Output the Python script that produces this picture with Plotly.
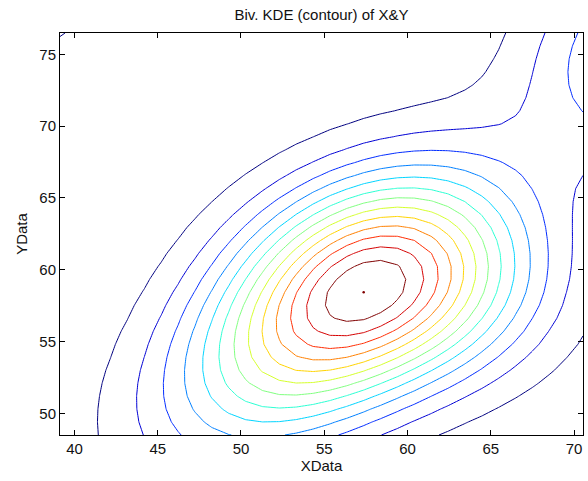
import numpy as np
import plotly.graph_objects as go

# Axis extents and ticks
x_range = [39.13, 70.54]
y_range = [48.49, 76.48]
x_ticks = [40, 45, 50, 55, 60, 65, 70]
y_ticks = [50, 55, 60, 65, 70, 75]

# Smoothed density of X&Y, described as a sum of bivariate Gaussian bumps
comp_mx = [59.865, 55.440, 73.555, 36.5]
comp_my = [59.016, 57.031, 75.190, 80.0]
comp_sx = [5.894, 6.637, 4.523, 2.5]
comp_sy = [4.716, 6.599, 5.475, 2.5]
comp_rho = [-0.038, 0.545, 0.133, 0.0]
comp_w = [1.0, 1.6671, 0.7215, 0.95]

n_levels = 14          # contour levels are k/14 of the maximum, k = 1..13
n_grid = 32            # evaluation grid per axis


def gauss2(X, Y, mx, my, sx, sy, r):
    zx = (X - mx) / sx
    zy = (Y - my) / sy
    return np.exp(-(zx * zx - 2 * r * zx * zy + zy * zy) / (2 * (1 - r * r)))


xg = np.linspace(x_range[0], x_range[1], n_grid)
yg = np.linspace(y_range[0], y_range[1], n_grid)
XX, YY = np.meshgrid(xg, yg)
Z = np.zeros_like(XX)
for mx, my, sx, sy, r, w in zip(comp_mx, comp_my, comp_sx, comp_sy, comp_rho, comp_w):
    Z += w * gauss2(XX, YY, mx, my, sx, sy, r)

zmax = Z.max()
iy, ix = np.unravel_index(np.argmax(Z), Z.shape)

# MATLAB-style jet colour map
jet = [[0, 'rgb(0,0,128)'], [0.125, 'rgb(0,0,255)'], [0.375, 'rgb(0,255,255)'],
       [0.625, 'rgb(255,255,0)'], [0.875, 'rgb(255,0,0)'], [1, 'rgb(128,0,0)']]

fig = go.Figure()
fig.add_trace(go.Contour(
    x=xg, y=yg, z=Z, zmin=0, zmax=zmax, zauto=False, colorscale=jet, showscale=False,
    contours=dict(coloring='lines', start=zmax / n_levels, end=zmax * (n_levels - 0.5) / n_levels,
                  size=zmax / n_levels),
    line=dict(width=1, smoothing=0), hoverinfo='skip'))
# top of the density surface
fig.add_trace(go.Scatter(x=[xg[ix]], y=[yg[iy]], mode='markers',
                         marker=dict(size=2.5, color='rgb(128,0,0)'), hoverinfo='skip'))

font = dict(family='Liberation Sans, Arial, sans-serif', size=15, color='#111')
fig.update_layout(
    width=588, height=481, margin=dict(l=60, r=5, t=33, b=46, autoexpand=False),
    plot_bgcolor='white', paper_bgcolor='white', showlegend=False, font=font,
    title=dict(text='Biv. KDE (contour) of X&Y', x=0.5, xref='paper', xanchor='center',
               y=1 - 15 / 481, yref='container', yanchor='middle', font=font))
axis_common = dict(showgrid=False, zeroline=False, showline=True, linecolor='black', linewidth=1,
                   mirror='ticks', ticks='inside', ticklen=5, tickcolor='black', tickfont=font)
fig.update_xaxes(range=x_range, tickvals=x_ticks, title=dict(text='XData', standoff=4, font=font), **axis_common)
fig.update_yaxes(range=y_range, tickvals=y_ticks, title=dict(text='YData', standoff=8, font=font), **axis_common)

fig.write_html("out.html")
